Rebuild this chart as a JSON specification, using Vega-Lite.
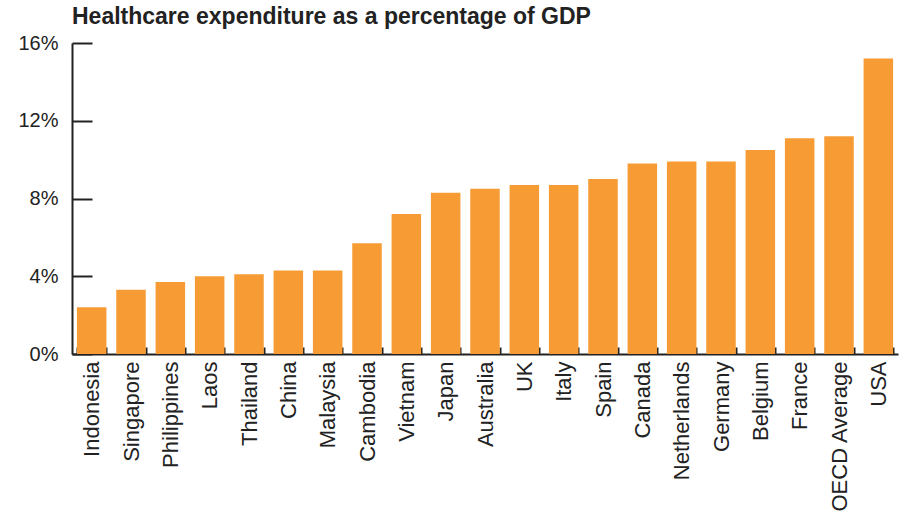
{
  "$schema": "https://vega.github.io/schema/vega-lite/v6.json",
  "autosize": "none",
  "padding": {"left": 72, "top": 43, "right": 6, "bottom": 163},
  "width": 826,
  "height": 311,
  "background": "white",
  "title": {
    "text": "Healthcare expenditure as a percentage of GDP",
    "anchor": "start",
    "frame": "group",
    "font": "Liberation Sans",
    "fontSize": 23,
    "fontWeight": "bold",
    "color": "#222222",
    "offset": 4
  },
  "data": {
    "values": [
      {"country": "Indonesia", "pct": 2.4},
      {"country": "Singapore", "pct": 3.3},
      {"country": "Philippines", "pct": 3.7},
      {"country": "Laos", "pct": 4.0},
      {"country": "Thailand", "pct": 4.1},
      {"country": "China", "pct": 4.3},
      {"country": "Malaysia", "pct": 4.3},
      {"country": "Cambodia", "pct": 5.7},
      {"country": "Vietnam", "pct": 7.2},
      {"country": "Japan", "pct": 8.3},
      {"country": "Australia", "pct": 8.5},
      {"country": "UK", "pct": 8.7},
      {"country": "Italy", "pct": 8.7},
      {"country": "Spain", "pct": 9.0},
      {"country": "Canada", "pct": 9.8},
      {"country": "Netherlands", "pct": 9.9},
      {"country": "Germany", "pct": 9.9},
      {"country": "Belgium", "pct": 10.5},
      {"country": "France", "pct": 11.1},
      {"country": "OECD Average", "pct": 11.2},
      {"country": "USA", "pct": 15.2}
    ]
  },
  "mark": {"type": "bar", "color": "#F79C34"},
  "encoding": {
    "x": {
      "field": "country",
      "type": "nominal",
      "sort": null,
      "scale": {"paddingInner": 0.25, "paddingOuter": 0.125},
      "axis": {
        "title": null,
        "labelAngle": -90,
        "labelAlign": "right",
        "labelBaseline": "middle",
        "labelFont": "Liberation Sans",
        "labelFontSize": 22,
        "labelColor": "#222222",
        "labelPadding": 14,
        "tickBand": "extent",
        "tickSize": -7,
        "tickWidth": 2,
        "tickColor": "#222222",
        "domainColor": "#222222",
        "domainWidth": 2,
        "labelOverlap": false
      }
    },
    "y": {
      "field": "pct",
      "type": "quantitative",
      "scale": {"domain": [0, 16], "nice": false},
      "axis": {
        "title": null,
        "values": [0, 4, 8, 12, 16],
        "labelExpr": "datum.value + '%'",
        "grid": false,
        "labelFont": "Liberation Sans",
        "labelFontSize": 20,
        "labelColor": "#222222",
        "tickSize": -20,
        "tickWidth": 2,
        "tickColor": "#222222",
        "domainColor": "#222222",
        "domainWidth": 2,
        "labelPadding": 34
      }
    }
  },
  "config": {"view": {"stroke": null}}
}
